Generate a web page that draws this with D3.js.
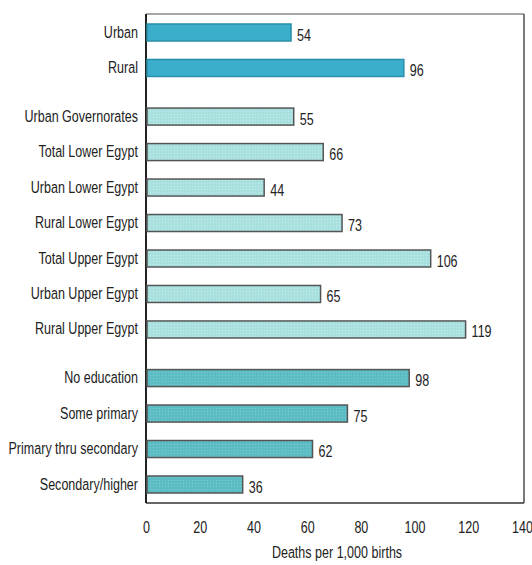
<!DOCTYPE html>
<html><head><meta charset="utf-8">
<script src="https://cdn.jsdelivr.net/npm/d3@7"></script>
<style>body{margin:0;background:#fff}svg{display:block}text{font-family:"Liberation Sans",Arial,sans-serif;fill:#222}</style>
</head><body><svg id="c" width="532" height="565"></svg>
<script>
const categories = ["Urban","Rural","Urban Governorates","Total Lower Egypt","Urban Lower Egypt","Rural Lower Egypt","Total Upper Egypt","Urban Upper Egypt","Rural Upper Egypt","No education","Some primary","Primary thru secondary","Secondary/higher"];
const values = [54,96,55,66,44,73,106,65,119,98,75,62,36];
const groups = [0,0,1,1,1,1,1,1,1,2,2,2,2];
const xTicks = [0,20,40,60,80,100,120,140];
const axisTitle = "Deaths per 1,000 births";
const groupFill = ["#3aaecb","#a8e0e0","#5cbcc4"];
const groupDot = [null,"#c6ecea","#7ccbd0"];
const groupStroke = ["#2a8fa8","#555","#555"];

const svg = d3.select("#c");
const pL = 146, pR = 522, pT = 14, pB = 503;
const FS = 16.5, SX = 0.76;
const x = d3.scaleLinear().domain([0,140]).range([pL,pR]);
const slot = categories.map((c,i)=> i + groups[i]*0.37);
const y = d3.scaleLinear().domain([0, slot[slot.length-1]]).range([32.5, 484.5]);
const bh = 17;

// halftone-like patterns
const defs = svg.append("defs");
groupFill.forEach((f,g)=>{
  const p = defs.append("pattern").attr("id","pat"+g).attr("width",3).attr("height",3).attr("patternUnits","userSpaceOnUse");
  p.append("rect").attr("width",3).attr("height",3).attr("fill",f);
  if (groupDot[g]) p.append("rect").attr("width",1).attr("height",1).attr("fill",groupDot[g]);
});

function ntext(sel, px, py, anchor){
  sel.attr("transform",(d,i)=>`translate(${px(d,i)},${py(d,i)}) scale(${SX},1)`)
     .attr("text-anchor",anchor).attr("font-size",FS);
}

// frame
svg.append("line").attr("x1",pL).attr("x2",pR+2).attr("y1",pT).attr("y2",pT).attr("stroke","#888").attr("stroke-width",1.5);
svg.append("line").attr("x1",pR+2).attr("x2",pR+2).attr("y1",pT).attr("y2",pB).attr("stroke","#333").attr("stroke-width",1.3);
svg.append("line").attr("x1",pL).attr("x2",pR+2).attr("y1",pB).attr("y2",pB).attr("stroke","#333").attr("stroke-width",1.5);
svg.append("line").attr("x1",pL).attr("x2",pL).attr("y1",pT).attr("y2",pB).attr("stroke","#222").attr("stroke-width",2);

// bars
svg.selectAll("rect.bar").data(values).join("rect").attr("class","bar")
  .attr("x",x(0)+1).attr("y",(d,i)=>y(slot[i])-bh/2)
  .attr("width",d=>x(d)-x(0)-1).attr("height",bh)
  .attr("fill",(d,i)=>`url(#pat${groups[i]})`)
  .attr("stroke",(d,i)=>groupStroke[groups[i]]).attr("stroke-width",1.5);

// value labels
svg.selectAll("text.val").data(values).join("text").attr("class","val")
  .call(ntext, d=>x(d)+6, (d,i)=>y(slot[i])+8, "start").text(d=>d);

// category labels
svg.selectAll("text.cat").data(categories).join("text").attr("class","cat")
  .call(ntext, ()=>138, (d,i)=>y(slot[i])+5, "end").text(d=>d);

// x axis
const ax = svg.append("g").attr("transform",`translate(0,${pB})`)
  .call(d3.axisBottom(x).tickValues(xTicks).tickSize(0).tickPadding(17));
ax.select(".domain").remove();
ax.selectAll(".tick text").attr("dy",null).attr("y",null)
  .attr("transform",`translate(0,30) scale(${SX},1)`)
  .attr("font-size",FS).attr("font-family","\"Liberation Sans\",Arial,sans-serif").attr("fill","#222");

svg.append("text").call(ntext, ()=>x(70)+3, ()=>558, "middle").text(axisTitle);
</script></body></html>
